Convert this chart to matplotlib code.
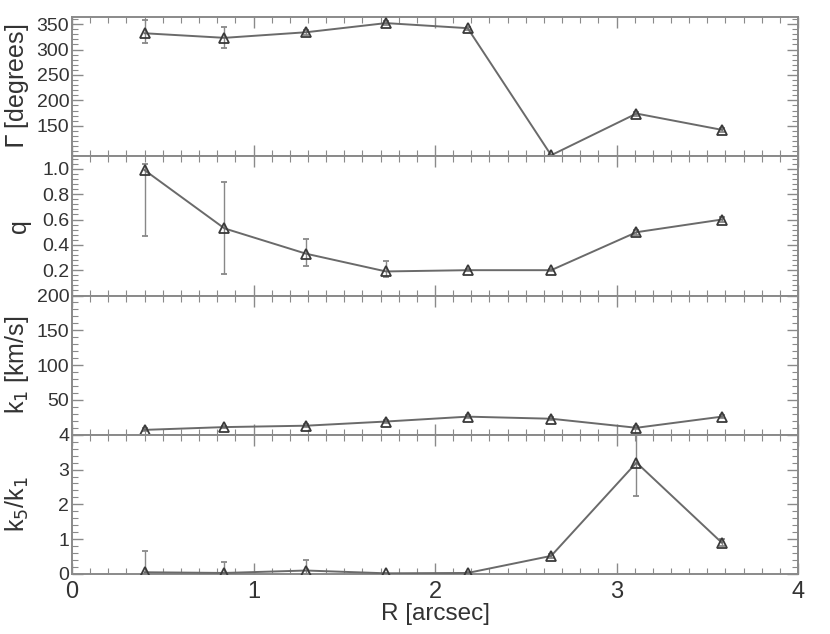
import matplotlib
matplotlib.use("Agg")
import matplotlib.pyplot as plt
from matplotlib.ticker import AutoMinorLocator, MultipleLocator

plt.rcParams['font.family'] = ['Liberation Sans', 'DejaVu Sans']

R = [0.40, 0.84, 1.29, 1.73, 2.18, 2.64, 3.11, 3.58]

gamma = [332, 323, 334, 352, 342, 92, 174, 142]
gamma_lo = [19, 20, 5, 4, 3, 0, 4, 4]
gamma_hi = [26, 21, 4, 4, 3, 0, 4, 4]

q = [0.99, 0.53, 0.33, 0.19, 0.20, 0.20, 0.50, 0.60]
q_lo = [0.52, 0.36, 0.10, 0.04, 0.01, 0.01, 0.02, 0.02]
q_hi = [0.05, 0.37, 0.12, 0.08, 0.01, 0.01, 0.02, 0.02]

k1 = [7, 11, 13, 19, 26, 23, 10, 26]
k1_err = [2, 2, 2, 2, 2, 2, 2, 2]

k51 = [0.05, 0.03, 0.10, 0.02, 0.03, 0.52, 3.20, 0.90]
k51_lo = [0.05, 0.03, 0.10, 0.02, 0.02, 0.05, 0.97, 0.10]
k51_hi = [0.60, 0.32, 0.30, 0.02, 0.02, 0.05, 1.30, 0.10]

fig = plt.figure(figsize=(8.3, 6.34), dpi=100)
left, right = 72 / 830, 798 / 830
top, bottom = 1 - 17 / 634, 1 - 574 / 634
h = (top - bottom) / 4

line_c = '#6a6a6a'
mk_c = '#3a3a3a'
axis_c = '#8a8a8a'
text_c = '#333333'

panels = [
    (gamma, [gamma_lo, gamma_hi], (90, 364), [150, 200, 250, 300, 350], ['150', '200', '250', '300', '350'], r'$\Gamma$ [degrees]'),
    (q, [q_lo, q_hi], (0, 1.1), [0.2, 0.4, 0.6, 0.8, 1.0], ['0.2', '0.4', '0.6', '0.8', '1.0'], 'q'),
    (k1, [k1_err, k1_err], (0, 200), [50, 100, 150, 200], ['50', '100', '150', '200'], r'k$_1$ [km/s]'),
    (k51, [k51_lo, k51_hi], (0, 4), [0, 1, 2, 3, 4], ['0', '1', '2', '3', '4'], r'k$_5$/k$_1$'),
]

axes = []
for i, (vals, err, ylim, yt, ytl, lab) in enumerate(panels):
    ax = fig.add_axes([left, top - (i + 1) * h, right - left, h])
    ax.errorbar(R, vals, yerr=err, color=line_c, lw=1.4, ecolor='#888888',
                elinewidth=1.0, capsize=2.5, capthick=1.0,
                marker='^', markersize=7, markerfacecolor='none',
                markeredgecolor=mk_c, markeredgewidth=1.3, zorder=3)
    ax.set_xlim(0, 4)
    ax.set_ylim(*ylim)
    ax.set_yticks(yt)
    ax.set_yticklabels(ytl)
    ax.xaxis.set_major_locator(MultipleLocator(1))
    ax.xaxis.set_minor_locator(MultipleLocator(0.1))
    ax.yaxis.set_minor_locator(AutoMinorLocator(5))
    ax.tick_params(which='both', direction='in', top=True, right=True,
                   color=axis_c, labelcolor=text_c, labelsize=14)
    ax.tick_params(axis='y', pad=2)
    ax.tick_params(which='major', length=8, width=1)
    ax.tick_params(which='minor', length=4, width=0.8)
    for s in ax.spines.values():
        s.set_color(axis_c)
        s.set_linewidth(1.4)
    ax.set_ylabel(lab, fontsize=18, color=text_c)
    if i < 3:
        ax.tick_params(labelbottom=False)
    axes.append(ax)

for ax in axes:
    ax.yaxis.set_label_coords(-0.056, 0.5)

axes[-1].set_xticks([0, 1, 2, 3, 4])
axes[-1].set_xticklabels(['0', '1', '2', '3', '4'])
axes[-1].tick_params(axis='x', labelsize=17, pad=5)
axes[-1].set_xlabel('R [arcsec]', fontsize=17.5, color=text_c, labelpad=0)

fig.savefig('out.png', dpi=100)
